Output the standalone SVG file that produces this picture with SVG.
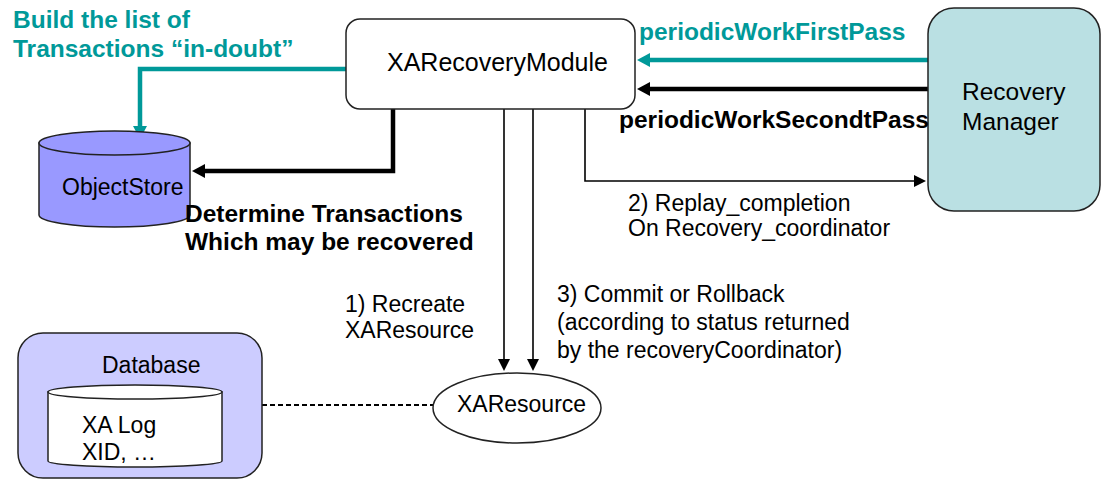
<svg xmlns="http://www.w3.org/2000/svg" width="1102" height="485" viewBox="0 0 1102 485">
<defs>
<style>
.t{font-family:"Liberation Sans",Arial,sans-serif;font-size:23px;fill:#000}
.b{font-family:"Liberation Sans",Arial,sans-serif;font-size:24.5px;font-weight:bold}
.teal{fill:#009999}
.box{stroke:#222;stroke-width:1.5}
.thick{fill:none;stroke:#000;stroke-width:4.5}
.tealline{fill:none;stroke:#009999;stroke-width:4.5}
.thin{fill:none;stroke:#000;stroke-width:1.6}
</style>
<marker id="ah" markerUnits="userSpaceOnUse" markerWidth="14" markerHeight="14" refX="1" refY="6" orient="auto"><path d="M0,0 L12,6 L0,12 Z" fill="#000"/></marker>
<marker id="ahb" markerUnits="userSpaceOnUse" markerWidth="16" markerHeight="16" refX="1" refY="7" orient="auto"><path d="M0,0 L13,7 L0,14 Z" fill="#000"/></marker>
<marker id="aht" markerUnits="userSpaceOnUse" markerWidth="16" markerHeight="16" refX="1" refY="7" orient="auto"><path d="M0,0 L13,7 L0,14 Z" fill="#009999"/></marker>
</defs>
<rect width="1102" height="485" fill="#fff"/>

<g id="connectors">
<path class="tealline" d="M928,60 L649,60" marker-end="url(#aht)"/>
<path class="thick" d="M928,89 L649,89" marker-end="url(#ahb)"/>
<path class="tealline" d="M346,69 L140,69 L140,127" marker-end="url(#aht)"/>
<path class="thick" d="M393,109 L393,171 L204,171" marker-end="url(#ahb)"/>
<path class="thin" d="M585,109 L585,181 L915,181" marker-end="url(#ah)"/>
<path class="thin" d="M504,109 L504,360" marker-end="url(#ah)"/>
<path class="thin" d="M533,109 L533,360" marker-end="url(#ah)"/>
<path d="M262,405 L433,405" fill="none" stroke="#000" stroke-width="1.8" stroke-dasharray="5,3"/>
</g>

<g id="xarecoverymodule">
<rect class="box" x="346" y="19" width="289" height="90" rx="14" fill="#fff"/>
<text class="t" x="387" y="71" style="font-size:25px">XARecoveryModule</text>
</g>

<g id="recoverymanager">
<rect class="box" x="928" y="8" width="172" height="203" rx="26" fill="#BAE0E3"/>
<text class="t" x="962" y="100" style="font-size:24.5px">Recovery</text>
<text class="t" x="962" y="130" style="font-size:24.5px">Manager</text>
</g>

<g id="objectstore">
<path class="box" d="M39,143 L39,215 A75.5,12 0 0 0 190,215 L190,143 Z" fill="#9999FF"/>
<ellipse class="box" cx="114.5" cy="143" rx="75.5" ry="12" fill="#9999FF"/>
<text class="t" x="62" y="195">ObjectStore</text>
</g>

<g id="database">
<rect class="box" x="18" y="333" width="244" height="145" rx="25" fill="#CCCCFF"/>
<text class="t" x="102" y="373">Database</text>
<path class="box" d="M48,392 L48,461 A87,6 0 0 0 222,461 L222,392 Z" fill="#fff"/>
<ellipse class="box" cx="135" cy="392" rx="87" ry="7" fill="#fff"/>
<text class="t" x="82" y="433">XA Log</text>
<text class="t" x="82" y="460">XID, …</text>
</g>

<g id="xaresource">
<ellipse class="box" cx="517" cy="408" rx="84" ry="35" fill="#fff"/>
<text class="t" x="457" y="412">XAResource</text>
</g>

<g id="labels">
<text class="b teal" x="13" y="28">Build the list of</text>
<text class="b teal" x="13" y="57">Transactions “in-doubt”</text>
<text class="b teal" x="639" y="40">periodicWorkFirstPass</text>
<text class="b" x="619" y="128">periodicWorkSecondtPass</text>
<text class="b" x="185" y="222">Determine Transactions</text>
<text class="b" x="185" y="250">Which may be recovered</text>
<text class="t" x="628" y="211">2) Replay_completion</text>
<text class="t" x="628" y="236">On Recovery_coordinator</text>
<text class="t" x="345" y="312">1) Recreate</text>
<text class="t" x="345" y="338">XAResource</text>
<text class="t" x="557" y="302">3) Commit or Rollback</text>
<text class="t" x="557" y="330">(according to status returned</text>
<text class="t" x="557" y="358">by the recoveryCoordinator)</text>
</g>
</svg>
